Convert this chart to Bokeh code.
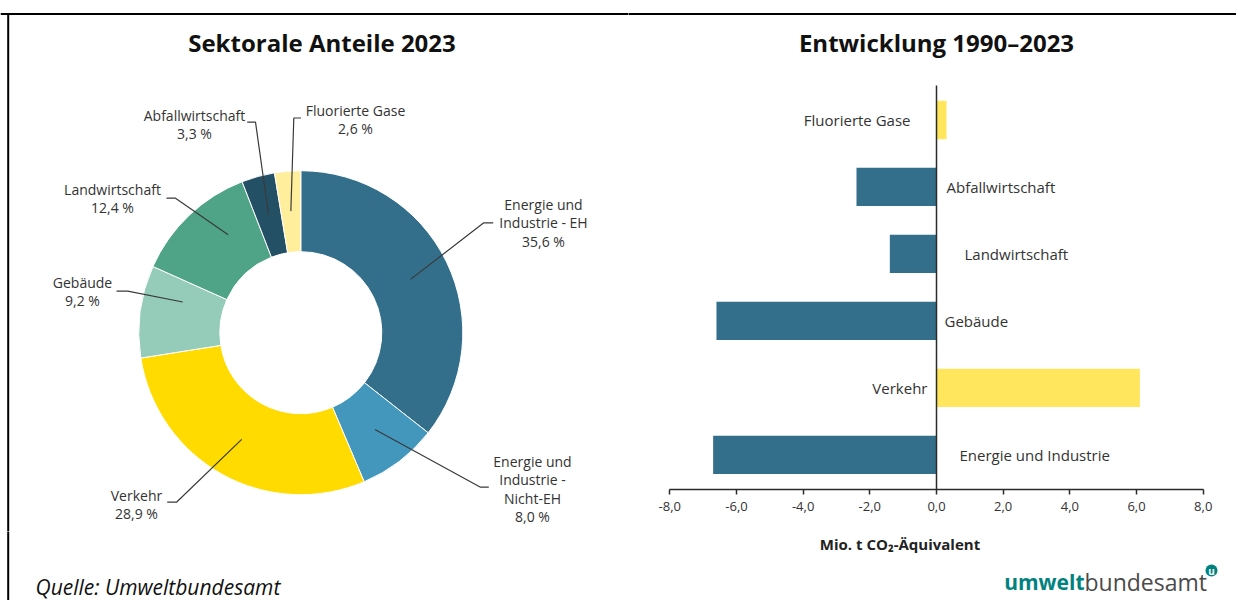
import math
from bokeh.plotting import figure
from bokeh.layouts import row, column
from bokeh.models import Range1d, LinearAxis, FixedTicker, CustomJSTickFormatter, ColumnDataSource
from bokeh.core.properties import value
from bokeh.embed import file_html
from bokeh.resources import INLINE

# ---------------- data ----------------
share_title = "Sektorale Anteile 2023"
share_sectors = ["Energie und Industrie - EH", "Energie und Industrie - Nicht-EH", "Verkehr",
                 "Gebäude", "Landwirtschaft", "Abfallwirtschaft", "Fluorierte Gase"]
share_label_lines = [["Energie und", "Industrie - EH"], ["Energie und", "Industrie -", "Nicht-EH"],
                     ["Verkehr"], ["Gebäude"], ["Landwirtschaft"], ["Abfallwirtschaft"], ["Fluorierte Gase"]]
share_values = [35.6, 8.0, 28.9, 9.2, 12.4, 3.3, 2.6]

change_title = "Entwicklung 1990–2023"
change_sectors = ["Energie und Industrie", "Verkehr", "Gebäude", "Landwirtschaft",
                  "Abfallwirtschaft", "Fluorierte Gase"]
change_values = [-6.7, 6.1, -6.6, -1.4, -2.4, 0.3]
change_ticks = [-8, -6, -4, -2, 0, 2, 4, 6, 8]
change_unit = "Mio. t CO₂-Äquivalent"
source_text = "Quelle: Umweltbundesamt"
logo_parts = ["umwelt", "bundesamt"]

# ---------------- styles ----------------
FONT = "Open Sans"
TXT = "#333333"
share_colors = ["#336f8a", "#4397bd", "#ffdb00", "#94cbb9", "#4fa387", "#235064", "#ffee9b"]
change_colors = ["#336f8a", "#ffe65c", "#336f8a", "#336f8a", "#336f8a", "#ffe65c"]
TEAL = "#00827f"

# layout (page pixel coordinates of the picture)
PAGE_W = 1236
PAGE_H = 600
TOP_H = 531
BOT_H = PAGE_H - TOP_H
LEFT_W = 628
RIGHT_W = PAGE_W - LEFT_W

# donut label layout: elbow x, elbow y, line end x, text centre x, first text line y, anchor nudge (deg)
share_label_layout = [
    (483.3, 222.3, 492.7, 543.0, 204.0, 0),
    (480.0, 486.7, 488.3, 532.0, 461.0, 0),
    (176.0, 501.7, 166.7, 136.0, 495.0, 0),
    (127.3, 290.7, 116.0, 82.0, 281.7, 7),
    (175.0, 197.7, 166.0, 112.0, 189.0, 7),
    (255.0, 121.7, 246.7, 194.0, 115.0, 0),
    (293.3, 117.5, 300.5, 355.0, 110.0, 0),
]
LINE_STEP = 18.4

# bar label layout: (align, x offset px)
change_label_layout = [("left", 23), ("right", -9), ("left", 8), ("left", 28), ("left", 10), ("right", -26)]


def base_fig(w, h, xr, yr, **kw):
    p = figure(width=w, height=h, x_range=xr, y_range=yr, output_backend="svg",
               toolbar_location=None, x_axis_location=None, y_axis_location=None,
               outline_line_color=None, background_fill_color="white",
               border_fill_color="white", **kw)
    p.grid.visible = False
    if "frame_align" in p.properties():
        p.frame_align = False
    return p


# ---------------- left: donut ----------------
p1 = base_fig(LEFT_W, TOP_H, Range1d(0, LEFT_W), Range1d(-TOP_H, 0), min_border=0)

CX, CY = 300.3, -332.2
R_OUT, R_IN, R_ANCHOR = 162, 81, 122
total = sum(share_values)
starts, ends, mids = [], [], []
cum = 0.0
for v in share_values:
    a0 = math.pi / 2 - 2 * math.pi * cum / total
    cum += v
    a1 = math.pi / 2 - 2 * math.pi * cum / total
    starts.append(a0)
    ends.append(a1)
    mids.append((a0 + a1) / 2)

src = ColumnDataSource(dict(start=starts, end=ends, color=share_colors, name=share_sectors, val=share_values))
p1.annular_wedge(x=CX, y=CY, inner_radius=R_IN, outer_radius=R_OUT, start_angle="start",
                 end_angle="end", direction="clock", fill_color="color", line_color="white",
                 line_width=1, source=src)

lx, ly, tx, ty, tt = [], [], [], [], []
for i, (lines, v) in enumerate(zip(share_label_lines, share_values)):
    ex, ey, endx, tcx, ty0, nudge = share_label_layout[i]
    ang = mids[i] - math.radians(nudge)
    ax_ = CX + R_ANCHOR * math.cos(ang)
    ay_ = CY + R_ANCHOR * math.sin(ang)
    lx.append([ax_, ex, endx])
    ly.append([ay_, -ey, -ey])
    all_lines = list(lines) + [("%.1f" % v).replace(".", ",") + " %"]
    for k, t in enumerate(all_lines):
        tx.append(tcx)
        ty.append(-(ty0 + k * LINE_STEP))
        tt.append(t)

p1.multi_line(xs=lx, ys=ly, line_color="#3a3a3a", line_width=1.2)
p1.text(x=tx, y=ty, text=tt, text_font=value(FONT), text_font_size="14px", text_color=TXT,
        text_align="center", text_baseline="middle")
p1.text(x=[321.5], y=[-42], text=[share_title], text_font=value(FONT), text_font_size="24px",
        text_font_style="bold", text_color="#111111", text_align="center", text_baseline="middle")
# frame lines
p1.segment(x0=[0], y0=[-13.5], x1=[LEFT_W + 5], y1=[-13.5], line_color="black", line_width=2)
p1.segment(x0=[7.7], y0=[-12.5], x1=[7.7], y1=[-TOP_H - 5], line_color="black", line_width=2)

# ---------------- right: bars ----------------
P2_LEFT = LEFT_W
PX_UNIT = (1202.7 - 669.3) / 16.0
ZERO_X = 936.0
ROW_PX = 66.96
CAT0_Y = 454.3
FRAME_BOTTOM = 489.0


def py2(ref_y):
    return (CAT0_Y - ref_y) / ROW_PX


x_lo = (P2_LEFT - ZERO_X) / PX_UNIT
x_hi = (P2_LEFT + RIGHT_W - ZERO_X) / PX_UNIT
y_lo = py2(FRAME_BOTTOM)
y_hi = py2(0)

p2 = base_fig(RIGHT_W, TOP_H, Range1d(x_lo, x_hi), Range1d(y_lo, y_hi),
              min_border_left=0, min_border_right=0, min_border_top=0,
              min_border_bottom=int(TOP_H - FRAME_BOTTOM))

n = len(change_sectors)
ys = list(range(n))
bsrc = ColumnDataSource(dict(y=ys, v=change_values, color=change_colors, name=change_sectors))
p2.hbar(y="y", left=0, right="v", height=0.572, fill_color="color", line_color=None, source=bsrc)
p2.segment(x0=[0], y0=[y_lo], x1=[0], y1=[n - 0.485], line_color="#2b2b2b", line_width=1.5)

for align in ("left", "right"):
    sel = [i for i in range(n) if change_label_layout[i][0] == align]
    p2.text(x=[0] * len(sel), y=[ys[i] for i in sel], text=[change_sectors[i] for i in sel],
            x_offset=[change_label_layout[i][1] for i in sel],
            text_font=value(FONT), text_font_size="15px", text_color=TXT,
            text_align=align, text_baseline="middle")

p2.text(x=[0], y=[py2(42)], text=[change_title], text_font=value(FONT), text_font_size="24px",
        text_font_style="bold", text_color="#111111", text_align="center", text_baseline="middle")
p2.segment(x0=[x_lo - 1], y0=[py2(13.5)], x1=[x_hi + 1], y1=[py2(13.5)], line_color="black", line_width=2)

ax = LinearAxis(ticker=FixedTicker(ticks=change_ticks),
                formatter=CustomJSTickFormatter(code="return tick.toFixed(1).replace('.', ',');"),
                bounds=(-8, 8))
ax.axis_line_color = "#2b2b2b"
ax.axis_line_width = 1.5
ax.major_tick_line_color = "#2b2b2b"
ax.major_tick_line_width = 1.5
ax.major_tick_out = 5
ax.major_tick_in = 0
ax.minor_tick_line_color = None
ax.major_label_standoff = 7
ax.major_label_text_font = FONT
ax.major_label_text_font_size = "13px"
ax.major_label_text_color = TXT
p2.add_layout(ax, "below")

# ---------------- bottom strip ----------------
p3 = base_fig(PAGE_W, BOT_H, Range1d(0, PAGE_W), Range1d(-PAGE_H, -TOP_H), min_border=0)
p3.text(x=[899.5], y=[-543], text=[change_unit], text_font=value(FONT), text_font_size="15px",
        text_font_style="bold", text_color="#222222", text_align="center", text_baseline="middle")
p3.text(x=[35], y=[-586], text=[source_text], text_font=value(FONT), text_font_size="21px",
        text_font_style="italic", text_color="#111111", text_align="left", text_baseline="middle")
p3.text(x=[1084], y=[-581], text=[logo_parts[0]], text_font=value(FONT), text_font_size="21px",
        text_font_style="bold", text_color=TEAL, text_align="right", text_baseline="middle")
p3.text(x=[1084], y=[-581], text=[logo_parts[1]], text_font=value(FONT), text_font_size="23px",
        text_color="#4a4a4a", text_align="left", text_baseline="middle")
p3.scatter(x=[1211], y=[-570], size=12, marker="circle", fill_color=TEAL, line_color=None)
p3.text(x=[1211], y=[-570], text=["u"], text_font=value(FONT), text_font_size="10px",
        text_font_style="bold", text_color="white", text_align="center", text_baseline="middle")
p3.segment(x0=[7.7], y0=[-TOP_H + 5], x1=[7.7], y1=[-PAGE_H - 5], line_color="black", line_width=2)

layout = column(row(p1, p2), p3)
open("out.html", "w").write(file_html(layout, INLINE))
